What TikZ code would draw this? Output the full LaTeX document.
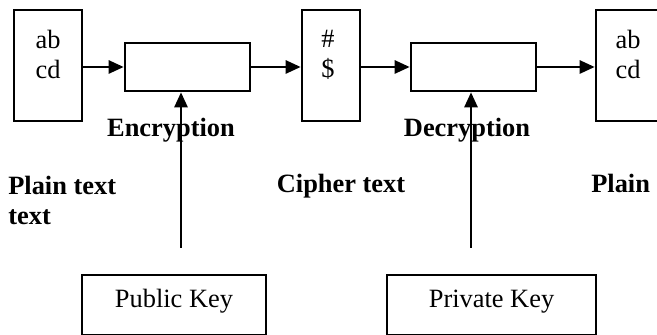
\documentclass[tikz,border=0pt]{standalone}
\usepackage{fontspec}
\setmainfont{Liberation Serif}
\usetikzlibrary{arrows.meta, calc}

\begin{document}
\begin{tikzpicture}[x=0.5pt, y=-0.5pt, line width=1.3pt,
  >={Triangle[length=7.5pt, width=6.5pt]},
  box/.style={draw, inner sep=0pt},
  tall/.style={box, minimum height=55.5pt},
  stage/.style={box, minimum width=62.5pt, minimum height=24pt},
  keybox/.style={box, minimum height=30pt},
  txt/.style={font=\fontsize{13.2}{15}\selectfont, inner sep=0pt, align=center},
  lbl/.style={font=\fontsize{13.2}{15}\selectfont\bfseries, inner sep=0pt}]
\useasboundingbox (0,0) rectangle (657,335);
\clip (0,0) rectangle (657,335);
% ---- boxes
\node[tall, minimum width=34pt] (plainL) at (48,65.5) {};
\node[stage] (enc) at (187.5,67) {};
\node[tall, minimum width=29pt] (ciph) at (331,65.5) {};
\node[stage] (dec) at (473.5,67) {};
\node[tall, minimum width=31pt] (plainR) at (627,65.5) {};
\node[keybox, minimum width=92pt] (pub) at (174,305) {};
\node[keybox, minimum width=104.5pt] (priv) at (491.5,305) {};
% ---- texts
\node[txt, anchor=north] (plainLtxt) at (48,29) {ab\\cd};
\node[txt, anchor=north] (ciphtxt) at (328,29) {\#\\\$};
\node[txt, anchor=north] (plainRtxt) at (628,29) {ab\\cd};
\node[txt, anchor=base] (pubtxt) at (174,308) {Public Key};
\node[txt, anchor=base] (privtxt) at (491.5,308) {Private Key};
\node[lbl, anchor=base] (enclbl) at (171,137) {Encryption};
\node[lbl, anchor=base] (declbl) at (467,137) {Decryption};
\node[lbl, anchor=north west, align=left] (plainLlbl) at (7,175) {Plain text\\text};
\node[lbl, anchor=base] (ciphlbl) at (341,193) {Cipher text};
\node[lbl, anchor=base west] (plainRlbl) at (590,193) {Plain};
% ---- arrows
\coordinate (pubkey) at (181,248);
\coordinate (privkey) at (471,248);
\draw[->] (plainL.east |- enc.west) -- (enc.west);
\draw[->] (enc.east) -- (enc.east -| ciph.west);
\draw[->] (ciph.east |- dec.west) -- (dec.west);
\draw[->] (dec.east) -- (dec.east -| plainR.west);
\draw[->] (pubkey) -- (pubkey |- enc.south);
\draw[->] (privkey) -- (privkey |- dec.south);
\end{tikzpicture}
\end{document}
